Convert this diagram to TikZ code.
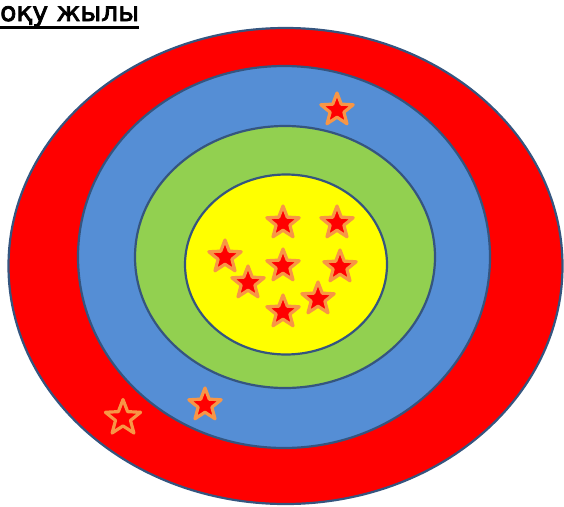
\documentclass[tikz,border=0pt]{standalone}
\usepackage{fontspec}
\setmainfont{DejaVu Sans}
\newfontfamily\headfont{DejaVu Sans}[FakeBold=3]
\usepackage{xcolor}
\usetikzlibrary{shapes.geometric}

\definecolor{ringred}{HTML}{FF0000}
\definecolor{ringblue}{HTML}{558ED5}
\definecolor{ringgreen}{HTML}{92D050}
\definecolor{ringyellow}{HTML}{FFFF00}
\definecolor{ringedge}{HTML}{35557F}
\definecolor{starrim}{HTML}{F79646}

\begin{document}
\begin{tikzpicture}[
  x=1pt, y=-1pt,
  ring/.style={draw=ringedge, line width=2.2pt},
  starmark/.style={star, star points=5, star point ratio=2.35,
    minimum size=34pt, inner sep=0pt,
    fill=ringred, draw=starrim, line width=3.2pt, line join=round},
  title/.style={font=\headfont\fontsize{26.5}{30}\selectfont, inner sep=0pt},
]
\useasboundingbox (0,0) rectangle (564,506);

% target rings
\filldraw[ring, fill=ringred]    (285.5,266) ellipse [x radius=277, y radius=238];
\filldraw[ring, fill=ringblue]   (284,257)   ellipse [x radius=206, y radius=191];
\filldraw[ring, fill=ringgreen]  (285,257)   ellipse [x radius=150, y radius=131];
\filldraw[ring, fill=ringyellow] (286,264.5) ellipse [x radius=101, y radius=90];

% title
\node[title, anchor=base west] (head) at (0,21) {оқу жылы};
\draw[line width=2.4pt] ([yshift=-6.5pt]head.base west) -- ([yshift=-6.5pt]head.base east);

% stars in the centre
\node[starmark] (s1) at (283,223) {};
\node[starmark] (s2) at (337,223) {};
\node[starmark] (s3) at (225,257) {};
\node[starmark] (s4) at (283,266) {};
\node[starmark] (s5) at (340,267) {};
\node[starmark] (s6) at (248,283) {};
\node[starmark] (s7) at (318,299) {};
\node[starmark] (s8) at (283,312) {};

% stars on the outer rings
\node[starmark] (b1) at (337,110) {};
\node[starmark] (b2) at (205,405) {};
\node[starmark, minimum size=37pt] (r1) at (123,418) {};
\end{tikzpicture}
\end{document}
